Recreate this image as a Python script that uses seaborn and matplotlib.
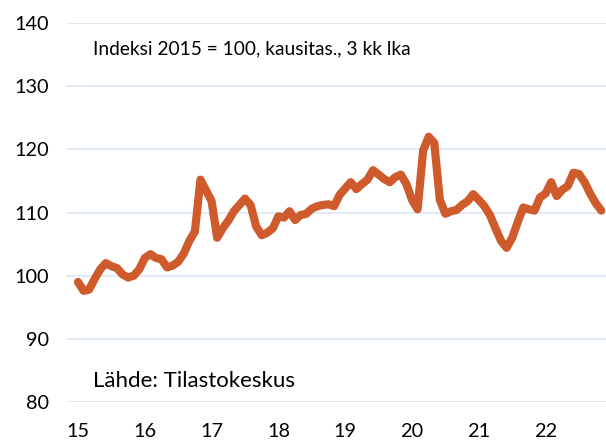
import matplotlib
matplotlib.use("Agg")
import matplotlib.pyplot as plt
import seaborn as sns
import pandas as pd

# Kuukausittainen indeksi, tammi 2015 - marras 2022 (2015 = 100)
index_values = [
    99.0, 97.6, 97.8, 99.5, 101.0, 102.0, 101.5, 101.2, 100.2, 99.7, 100.0, 101.0,
    102.8, 103.4, 102.8, 102.6, 101.3, 101.6, 102.2, 103.5, 105.5, 107.0, 115.2, 113.5,
    111.8, 106.0, 107.5, 108.7, 110.2, 111.2, 112.2, 111.2, 107.8, 106.4, 106.8, 107.5,
    109.4, 109.2, 110.2, 108.8, 109.6, 109.8, 110.6, 111.0, 111.2, 111.3, 111.0, 112.8,
    113.8, 114.8, 113.7, 114.5, 115.2, 116.7, 116.0, 115.3, 114.8, 115.6, 116.0, 114.5,
    112.0, 110.5, 119.8, 122.0, 121.0, 112.0, 109.8, 110.2, 110.4, 111.2, 111.8, 112.9,
    112.0, 111.0, 109.6, 107.5, 105.5, 104.4, 106.0, 108.5, 110.8, 110.5, 110.3, 112.4,
    113.0, 114.8, 112.6, 113.6, 114.2, 116.3, 116.1, 114.8, 113.0, 111.5, 110.3,
]
start_year = 15
year_ticks = [15, 16, 17, 18, 19, 20, 21, 22]
y_ticks = [80, 90, 100, 110, 120, 130, 140]
note_text = "Indeksi 2015 = 100, kausitas., 3 kk lka"
source_text = "Lähde: Tilastokeskus"

df = pd.DataFrame({
    "aika": [start_year + i / 12 for i in range(len(index_values))],
    "indeksi": index_values,
})

sns.set_theme(style="white")
plt.rcParams["font.family"] = ["Lato", "DejaVu Sans"]

fig = plt.figure(figsize=(6.06, 4.43), dpi=100)
ax = fig.add_axes([66 / 606, 41 / 443, 540 / 606, 379 / 443])

sns.lineplot(data=df, x="aika", y="indeksi", ax=ax, color="#CF5A2C",
             linewidth=5.9, solid_joinstyle="round", solid_capstyle="round")

ax.set_xlim(15 - 12 / 66.8, 15 + 528 / 66.8)
ax.set_ylim(80, 140)
ax.set_xticks(year_ticks)
ax.set_yticks(y_ticks)
ax.set_xlabel("")
ax.set_ylabel("")
ax.yaxis.grid(True, color="#DDE6F1", linewidth=1.2)
ax.set_axisbelow(True)
for s in ax.spines.values():
    s.set_visible(False)
ax.tick_params(axis="x", length=0, pad=15, labelsize=14.3, labelcolor="black")
ax.tick_params(axis="y", length=0, pad=12, labelsize=14.3, labelcolor="black")

# tekstit akselin koordinaateissa (vasen reuna n. x=93 px)
ax.text(27 / 540, (443 - 49 - 41) / 379, note_text, color="black",
        transform=ax.transAxes, fontsize=13.8, va="center", ha="left")
ax.text(27 / 540, (443 - 381 - 41) / 379, source_text, color="black",
        transform=ax.transAxes, fontsize=16, va="center", ha="left")

fig.savefig("out.png", dpi=100)
